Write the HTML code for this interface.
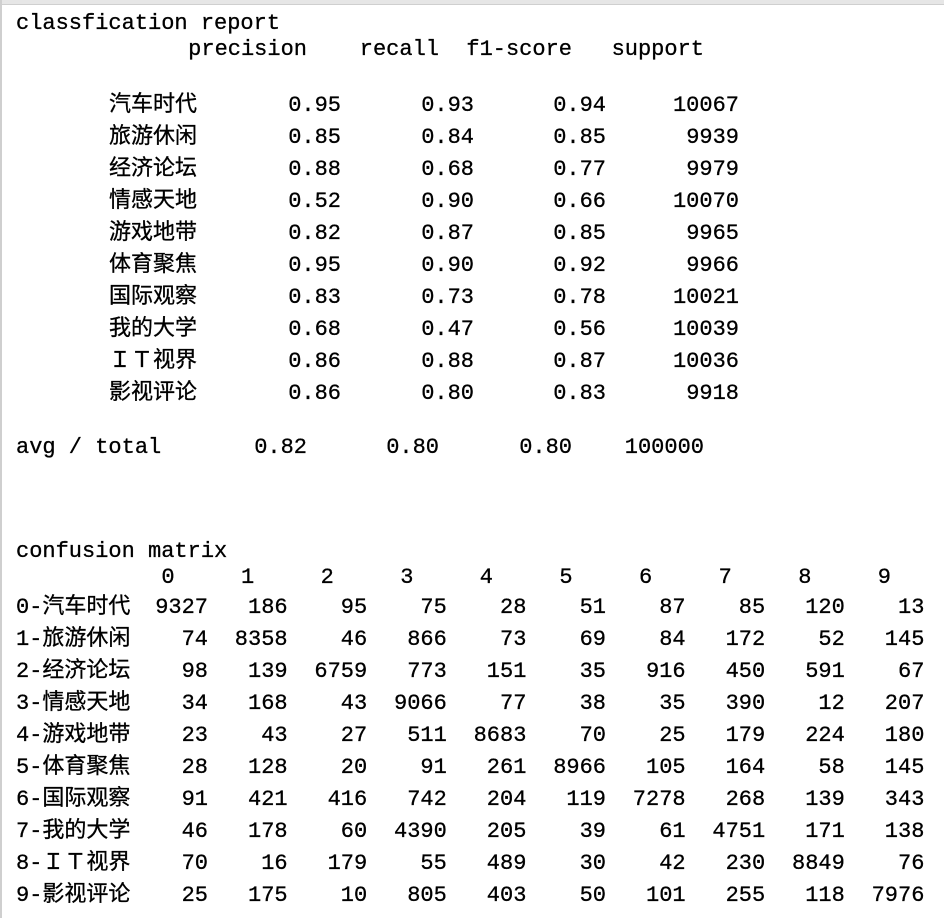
<!DOCTYPE html>
<html><head><meta charset="utf-8">
<style>
html,body{margin:0;padding:0;background:#fff;}
#page{position:relative;width:944px;height:918px;overflow:hidden;background:#fff;
font-family:"Liberation Mono","Noto Sans CJK SC",monospace;font-size:22px;color:#000;}
#frame-top{position:absolute;left:0;top:0;width:944px;height:4px;background:#e6e6e6;border-bottom:1px solid #cfcfcf;}
#frame-left{position:absolute;left:0;top:0;width:2px;height:918px;background:#cfcfcf;}
.t{position:absolute;line-height:32px;height:32px;white-space:pre;-webkit-text-stroke:0.3px #000;}
.r{text-align:right;}
.c{text-align:center;width:30px;}
</style></head>
<body>
<div id="page">
<div id="frame-top"></div>
<div id="frame-left"></div>
</div>
<script>
const classLabels=["汽车时代","旅游休闲","经济论坛","情感天地","游戏地带","体育聚焦","国际观察","我的大学","ＩＴ视界","影视评论"];
const precision=["0.95","0.85","0.88","0.52","0.82","0.95","0.83","0.68","0.86","0.86"];
const recall=["0.93","0.84","0.68","0.90","0.87","0.90","0.73","0.47","0.88","0.80"];
const f1=["0.94","0.85","0.77","0.66","0.85","0.92","0.78","0.56","0.87","0.83"];
const support=["10067","9939","9979","10070","9965","9966","10021","10039","10036","9918"];
const avgRow=["0.82","0.80","0.80","100000"];
const matrix=[
[9327,186,95,75,28,51,87,85,120,13],
[74,8358,46,866,73,69,84,172,52,145],
[98,139,6759,773,151,35,916,450,591,67],
[34,168,43,9066,77,38,35,390,12,207],
[23,43,27,511,8683,70,25,179,224,180],
[28,128,20,91,261,8966,105,164,58,145],
[91,421,416,742,204,119,7278,268,139,343],
[46,178,60,4390,205,39,61,4751,171,138],
[70,16,179,55,489,30,42,230,8849,76],
[25,175,10,805,403,50,101,255,118,7976]];

const page=document.getElementById('page');
function put(text,x,cy,mode,name){
  const el=document.createElement('div');
  el.className='t'+(mode==='r'?' r':mode==='c'?' c':'');
  el.textContent=text;
  el.style.top=(cy-14)+'px';
  if(mode==='r'){el.style.right=(944-x)+'px';}
  else if(mode==='c'){el.style.left=(x-15)+'px';}
  else el.style.left=x+'px';
  
  
  page.appendChild(el);
}
put('classfication report',16,22,'l','report-title');
put('precision',307,48,'r','header-precision');
put('recall',439,48,'r','header-recall');
put('f1-score',572,48,'r','header-f1-score');
put('support',704,48,'r','header-support');
classLabels.forEach((lab,i)=>{
  const cy=104+32*i;
  put(lab,197,cy,'r','report-label');
  put(precision[i],341,cy,'r','precision-value');
  put(recall[i],474,cy,'r','recall-value');
  put(f1[i],606,cy,'r','f1-value');
  put(support[i],739,cy,'r','support-value');
});
put('avg / total',16,446,'l','avg-total-label');
put(avgRow[0],307,446,'r','avg-precision');
put(avgRow[1],439,446,'r','avg-recall');
put(avgRow[2],572,446,'r','avg-f1');
put(avgRow[3],704,446,'r','avg-support');
put('confusion matrix',16,550,'l','matrix-title');
const colRight=i=>208+79.6*i;
for(let j=0;j<10;j++) put(String(j),colRight(j)-40,576,'c','matrix-col-header');
matrix.forEach((row,i)=>{
  const cy=606+32*i;
  put(i+'-'+classLabels[i],16,cy,'l','matrix-row-label');
  row.forEach((v,j)=>put(String(v),colRight(j),cy,'r','matrix-cell'));
});
</script>
</body></html>
